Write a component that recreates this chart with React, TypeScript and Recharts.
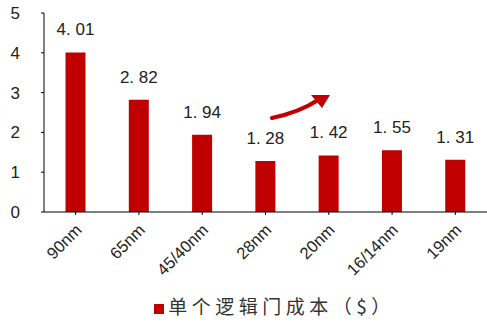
import { BarChart, Bar, XAxis, YAxis, Legend, LabelList } from 'recharts';

const nodes = ['90nm', '65nm', '45/40nm', '28nm', '20nm', '16/14nm', '19nm'];
const gateCost = [4.01, 2.82, 1.94, 1.28, 1.42, 1.55, 1.31];
const yTicks = [0, 1, 2, 3, 4, 5];
const seriesName = '单个逻辑门成本（$）';

const data = nodes.map((node, i) => ({ node, cost: gateCost[i] }));

const RED = '#C00000';
const SANS = 'Liberation Sans, Arial, sans-serif';

function NodeTick(props: any) {
  const { x, y, payload } = props;
  return (
    <text
      x={0}
      y={0}
      transform={`translate(${x + 7},${y + 14}) rotate(-45)`}
      textAnchor="end"
      fontSize={16.5}
      fontFamily={SANS}
      fill="#222"
    >
      {payload.value}
    </text>
  );
}

// value label drawn above each bar, "4. 01" style spacing as in the source
function ValueLabel(props: any) {
  const { x, y, width, value } = props;
  return (
    <text
      x={x + width / 2}
      y={y - 17}
      textAnchor="middle"
      fontSize={17}
      fontFamily={SANS}
      fill="#222"
      style={{ whiteSpace: 'pre' }}
    >
      {Number(value).toFixed(2).replace('.', '. ')}
    </text>
  );
}

export default function App() {
  return (
    <div style={{ position: 'absolute', left: 0, top: 0, width: 487, height: 323, background: '#fff' }}>
      <BarChart
        width={487}
        height={323}
        data={data}
        margin={{ top: 13, right: 0, left: 0, bottom: 0 }}
        barCategoryGap="34%"
      >
        <XAxis
          dataKey="node"
          interval={0}
          height={84}
          tick={<NodeTick />}
          tickLine={{ stroke: '#000' }}
          axisLine={{ stroke: '#000' }}
          tickSize={3}
        />
        <YAxis
          domain={[0, 5]}
          ticks={yTicks}
          width={44}
          tick={{ fontSize: 17, fill: '#222', fontFamily: SANS }}
          tickLine={{ stroke: '#000' }}
          axisLine={{ stroke: '#000' }}
          tickSize={3}
          tickMargin={21}
        />
        <Legend
          verticalAlign="bottom"
          iconType="square"
          iconSize={10}
          wrapperStyle={{
            left: 72,
            width: 415,
            bottom: 4,
            fontFamily: 'Noto Sans CJK SC, sans-serif',
            fontSize: 19,
            letterSpacing: 4.5,
          }}
          formatter={(v: string) => <span style={{ color: '#333' }}>{v}</span>}
        />
        <Bar dataKey="cost" name={seriesName} fill={RED} isAnimationActive={false}>
          <LabelList dataKey="cost" content={<ValueLabel />} />
        </Bar>
      </BarChart>
      <svg width={487} height={323} style={{ position: 'absolute', left: 0, top: 0, pointerEvents: 'none' }}>
        <path d="M272,118 Q300,112 318,100" stroke={RED} strokeWidth={4} fill="none" strokeLinecap="round" />
        <path d="M330,95 L311,95 L322,108 Z" fill={RED} />
      </svg>
    </div>
  );
}
